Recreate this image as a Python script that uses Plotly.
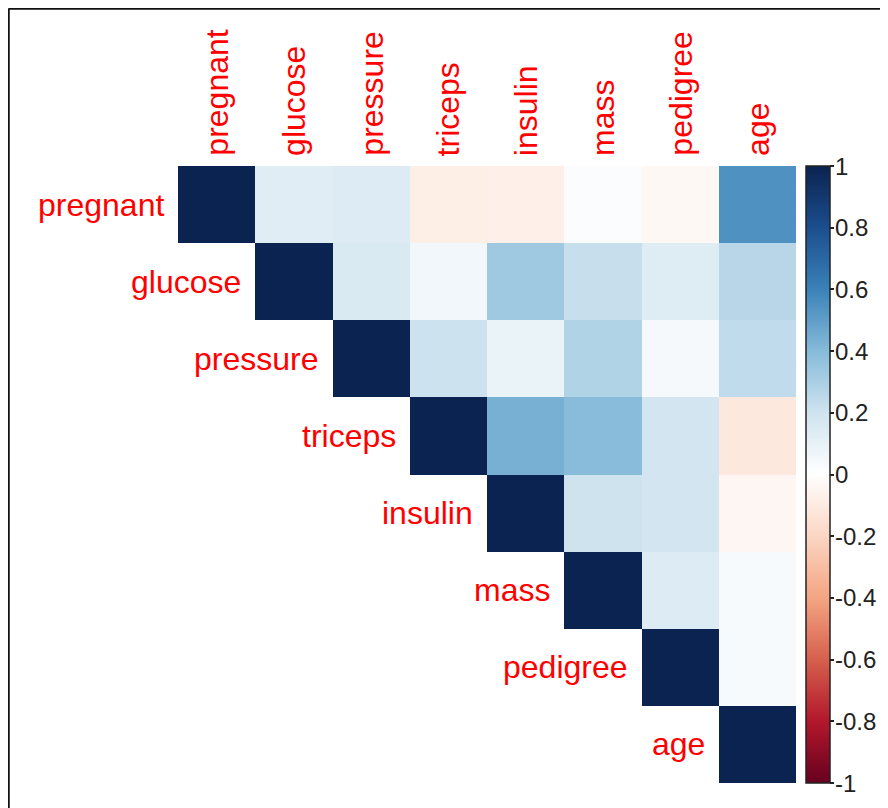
"""Pima diabetes correlation matrix, upper triangle (corrplot style)."""

import plotly.graph_objects as go

VARIABLES = ["pregnant", "glucose", "pressure", "triceps", "insulin", "mass", "pedigree", "age"]

# upper-triangle correlations, row by row (diagonal first)
ROW_PREGNANT = [1.0, 0.129, 0.141, -0.082, -0.074, 0.018, -0.034, 0.544]
ROW_GLUCOSE = [1.0, 0.153, 0.057, 0.331, 0.221, 0.137, 0.264]
ROW_PRESSURE = [1.0, 0.207, 0.089, 0.282, 0.041, 0.240]
ROW_TRICEPS = [1.0, 0.437, 0.393, 0.184, -0.114]
ROW_INSULIN = [1.0, 0.198, 0.185, -0.042]
ROW_MASS = [1.0, 0.141, 0.036]
ROW_PEDIGREE = [1.0, 0.034]
ROW_AGE = [1.0]

ROWS = [ROW_PREGNANT, ROW_GLUCOSE, ROW_PRESSURE, ROW_TRICEPS,
        ROW_INSULIN, ROW_MASS, ROW_PEDIGREE, ROW_AGE]

CBAR_TICKS = [1, 0.8, 0.6, 0.4, 0.2, 0, -0.2, -0.4, -0.6, -0.8, -1]
CBAR_LABELS = ["1", "0.8", "0.6", "0.4", "0.2", "0", "-0.2", "-0.4", "-0.6", "-0.8", "-1"]

# RdBu palette, tuned a bit darker to match the rendered reference
RDBU = ["#67001F", "#B2182B", "#D6604D", "#F4A582", "#FBD6C3", "#FFFFFF",
        "#CFE3EF", "#86BBDA", "#3A82B8", "#1B4E8E", "#0A2350"]

n = len(VARIABLES)
z = [[None] * i + row for i, row in enumerate(ROWS)]
colorscale = [[k / (len(RDBU) - 1), c] for k, c in enumerate(RDBU)]

FONT = "Liberation Sans, Arial, sans-serif"

# figure is offset by the 8px body margin of the page
W, H = 880, 800
L, T = 170, 158
PW, PH = 618, 617

fig = go.Figure()
fig.add_trace(
    go.Heatmap(
        z=z,
        x=list(range(n)),
        y=list(range(n)),
        zmin=-1,
        zmax=1,
        colorscale=colorscale,
        hoverongaps=False,
        colorbar=dict(
            x=1 + 10 / PW,
            xanchor="left",
            xpad=0,
            y=0.5,
            yanchor="middle",
            len=1.0,
            ypad=0,
            thickness=24,
            outlinewidth=1.5,
            outlinecolor="#222222",
            ticks="outside",
            ticklen=4,
            tickwidth=1.5,
            tickcolor="#222222",
            tickvals=CBAR_TICKS,
            showticklabels=False,
        ),
    )
)

# colorbar tick labels placed by hand so they don't push the plot margins
for v, lab in zip(CBAR_TICKS, CBAR_LABELS):
    fig.add_annotation(
        xref="paper", yref="paper", x=1 + 37 / PW, y=(v + 1) / 2,
        text=lab, showarrow=False, xanchor="left", yanchor="middle",
        font=dict(family=FONT, size=24, color="#222222"),
    )

# row labels sit just left of the diagonal cell, column labels above the grid
for i, name in enumerate(VARIABLES):
    fig.add_annotation(
        x=i - 0.5, y=i, text=name, showarrow=False,
        xanchor="right", yanchor="middle", xshift=-12,
        font=dict(family=FONT, size=32, color="#FF0000"),
    )
    fig.add_annotation(
        x=i, y=-0.5, text=name, showarrow=False, textangle=-90,
        xanchor="center", yanchor="bottom", yshift=8,
        font=dict(family=FONT, size=32, color="#FF0000"),
    )

# frame lines top and left
fx = -L / PW + 0.5 / PW
fy = 1 + T / PH - 0.5 / PH
fig.add_shape(type="line", xref="paper", yref="paper",
              x0=fx, x1=1.3, y0=fy, y1=fy,
              line=dict(color="#111111", width=2.5))
fig.add_shape(type="line", xref="paper", yref="paper",
              x0=fx, x1=fx, y0=-0.1, y1=fy,
              line=dict(color="#111111", width=2.5))

fig.update_layout(
    width=W,
    height=H,
    margin=dict(l=L, r=W - L - PW, t=T, b=H - T - PH),
    plot_bgcolor="white",
    paper_bgcolor="white",
    xaxis=dict(range=[-0.5, n - 0.5], visible=False, fixedrange=True),
    yaxis=dict(range=[n - 0.5, -0.5], visible=False, fixedrange=True),
    showlegend=False,
)

fig.write_html("out.html")
